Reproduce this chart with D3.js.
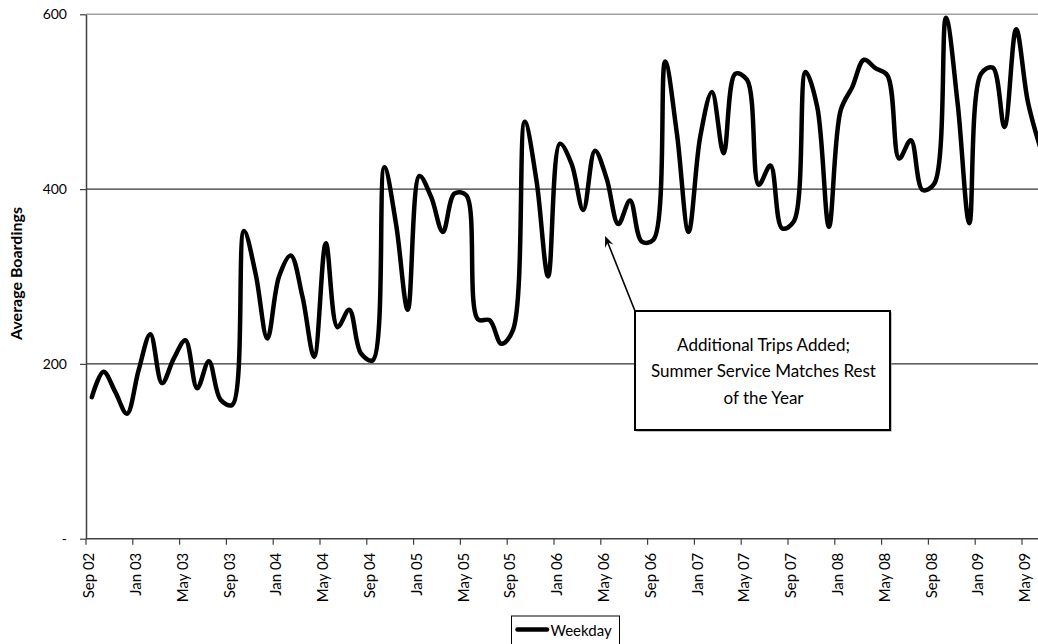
<!DOCTYPE html>
<html>
<head>
<meta charset="utf-8">
<script src="https://cdn.jsdelivr.net/npm/d3@7"></script>
<style>
  html, body { margin: 0; padding: 0; background: #fff; }
  svg { display: block; font-family: Lato, "Open Sans", sans-serif; }
</style>
</head>
<body>
<svg id="chart" width="1038" height="644"></svg>
<script>
// ---- data ----
const startMonth = "2002-09";
const weekday = [162,191,168,143,193,234,178,206,227,172,203,159,153,352,303,229,300,324,277,208,
  338,242,262,212,204,425,360,262,415,391,351,395,393,251,250,223,239,477,410,300,
  452,429,376,444,412,360,387,340,342,546,464,351,460,511,441,532,525,405,427,355,
  363,534,494,357,490,517,548,538,530,435,456,399,406,596,498,361,532,539,471,583,
  500,450];
const yTicks = [0, 200, 400, 600];
const yTickLabels = ["-", "200", "400", "600"];
const seriesName = "Weekday";
const yTitle = "Average Boardings";
const noteLines = ["Additional Trips Added;", "Summer Service Matches Rest", "of the Year"];
const noteMonth = "May 06";

const fmt = d3.timeFormat("%b %y");
const start = d3.timeParse("%Y-%m")(startMonth);
const months = weekday.map((_, i) => fmt(d3.timeMonth.offset(start, i)));
const tickLabels = months.filter((_, i) => i % 4 === 0);

// ---- layout ----
const svg = d3.select("#chart");
const pLeft = 86, pTop = 14.3, pBottom = 538.7, step = 11.7;
const x = d3.scaleBand().domain(months).range([pLeft, pLeft + step * months.length]).padding(0);
const bw = x.bandwidth();
const cx = m => x(m) + bw / 2;
const y = d3.scaleLinear().domain([0, 600]).range([pBottom, pTop]);

// gridlines
svg.append("g").selectAll("line").data([200, 400]).join("line")
  .attr("x1", pLeft).attr("x2", 1038)
  .attr("y1", d => y(d)).attr("y2", d => y(d))
  .attr("stroke", "#000").attr("stroke-width", 1);
svg.append("line").attr("x1", pLeft).attr("x2", 1038)
  .attr("y1", y(600)).attr("y2", y(600))
  .attr("stroke", "#a0a0a0").attr("stroke-width", 1.5);

// y axis
const yAxis = svg.append("g").attr("transform", `translate(${pLeft},0)`)
  .call(d3.axisLeft(y).tickValues(yTicks).tickSize(6).tickSizeOuter(0)
    .tickFormat((d, i) => yTickLabels[i]));
yAxis.select(".domain").attr("stroke", "#404040").attr("stroke-width", 1.5);
yAxis.selectAll(".tick line").attr("stroke", "#404040").attr("stroke-width", 1.2);
yAxis.selectAll(".tick text").attr("x", -19).attr("font-size", 14).attr("fill", "#000")
  .style("font-family", "Lato, sans-serif");

// x axis
const xAxis = svg.append("g").attr("transform", `translate(0,${pBottom})`)
  .call(d3.axisBottom(x).tickValues(tickLabels).tickSize(6).tickSizeOuter(0));
xAxis.select(".domain").attr("stroke", "#404040").attr("stroke-width", 1.5)
  .attr("d", `M${pLeft},0H1038`);
xAxis.selectAll(".tick line").attr("stroke", "#404040").attr("stroke-width", 1.2)
  .attr("transform", `translate(${-bw / 2},0)`);
xAxis.selectAll(".tick text")
  .attr("transform", "rotate(-90)")
  .attr("text-anchor", "end")
  .attr("x", -14).attr("y", 0).attr("dy", "0.15em")
  .attr("font-size", 15).attr("fill", "#000")
  .style("font-family", "Lato, sans-serif");

// y title
svg.append("text")
  .attr("transform", `translate(22,${(pTop + pBottom) / 2 - 3}) rotate(-90)`)
  .attr("text-anchor", "middle")
  .attr("font-size", 16).attr("font-weight", "bold")
  .text(yTitle);

// line
const line = d3.line().x((d, i) => cx(months[i])).y(d => y(d))
  .curve(d3.curveCatmullRom.alpha(0.5));
svg.append("path").datum(weekday)
  .attr("d", line).attr("fill", "none")
  .attr("stroke", "#000").attr("stroke-width", 4.5)
  .attr("stroke-linejoin", "round").attr("stroke-linecap", "round");

// annotation
const box = { x: 635, y: 311, w: 255, h: 119 };
const tipX = cx(noteMonth) - 1.5, tipY = 236;
const ang = Math.atan2(tipY - box.y, tipX - box.x);
svg.append("line").attr("x1", box.x).attr("y1", box.y)
  .attr("x2", tipX - 6 * Math.cos(ang)).attr("y2", tipY - 6 * Math.sin(ang))
  .attr("stroke", "#000").attr("stroke-width", 1.6);
const ah = 11, aw = 4.5;
const bx = tipX - ah * Math.cos(ang), by = tipY - ah * Math.sin(ang);
const px = -Math.sin(ang), py = Math.cos(ang);
svg.append("path")
  .attr("d", `M${tipX},${tipY}L${bx + aw * px},${by + aw * py}L${tipX - 7 * Math.cos(ang)},${tipY - 7 * Math.sin(ang)}L${bx - aw * px},${by - aw * py}Z`)
  .attr("fill", "#000");
svg.append("rect").attr("x", box.x + 1.5).attr("y", box.y + 1.5).attr("width", box.w).attr("height", box.h)
  .attr("fill", "#888");
svg.append("rect").attr("x", box.x).attr("y", box.y).attr("width", box.w).attr("height", box.h)
  .attr("fill", "#fff").attr("stroke", "#000").attr("stroke-width", 2);
svg.append("g").selectAll("text").data(noteLines).join("text")
  .attr("x", box.x + box.w / 2 + 1)
  .attr("y", (d, i) => 350.5 + i * 26.6)
  .attr("text-anchor", "middle").attr("font-size", 17)
  .text(d => d);

// legend
const lg = svg.append("g");
lg.append("rect").attr("x", 511.5).attr("y", 616).attr("width", 108).attr("height", 40)
  .attr("fill", "#fff").attr("stroke", "#000").attr("stroke-width", 1);
lg.append("line").attr("x1", 517.5).attr("x2", 547).attr("y1", 629.5).attr("y2", 629.5)
  .attr("stroke", "#000").attr("stroke-width", 4.5).attr("stroke-linecap", "round");
lg.append("text").attr("x", 550.5).attr("y", 636).attr("font-size", 15).text(seriesName);
</script>
</body>
</html>
